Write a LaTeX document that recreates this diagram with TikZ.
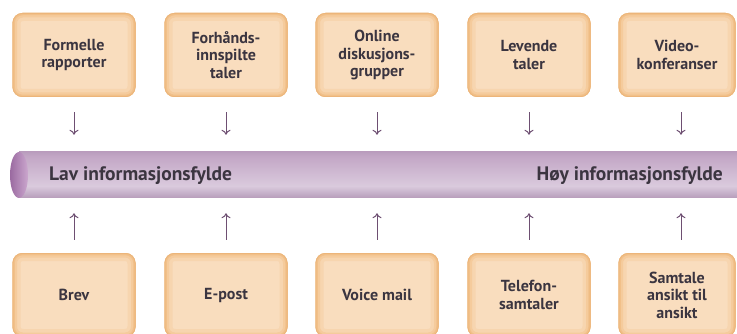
\documentclass[tikz,border=0pt]{standalone}
\usepackage{fontspec}
\setmainfont{PT Sans}
\usetikzlibrary{arrows.meta}
\definecolor{boxin}{HTML}{F9DDBE}
\definecolor{boxa}{HTML}{F7D5AF}
\definecolor{boxb}{HTML}{F5CB9C}
\definecolor{boxc}{HTML}{F1C089}
\definecolor{boxd}{HTML}{ECB57A}
\definecolor{txt}{HTML}{3B3540}
\definecolor{arrc}{HTML}{6E4F72}
\definecolor{tA}{HTML}{D6C3D8}
\definecolor{tB}{HTML}{8D6A92}
\definecolor{tC}{HTML}{A98BAD}
\definecolor{tD}{HTML}{DACADD}
\definecolor{tE}{HTML}{C3A7C6}
\definecolor{tF}{HTML}{9F7FA4}
\definecolor{tG}{HTML}{B89BBB}
\definecolor{tH}{HTML}{EADFEB}
\definecolor{endL}{HTML}{9A6AA0}
\definecolor{endR}{HTML}{CBA7CE}
\pgfdeclareverticalshading{tube}{100bp}{color(0bp)=(tA); color(5bp)=(tB); color(20bp)=(tC); color(38bp)=(tD); color(70bp)=(tE); color(91bp)=(tF); color(96bp)=(tG); color(100bp)=(tH)}
\tikzset{
  infobox/.style={rounded corners=10pt, minimum width=123pt, minimum height=84pt,
    fill=boxin, align=center, text=txt, inner sep=2pt,
    font=\bfseries\fontsize{16}{17.5}\selectfont,
    path picture={
      \draw[boxa, line width=16pt, rounded corners=10pt] (path picture bounding box.south west) rectangle (path picture bounding box.north east);
      \draw[boxb, line width=9pt, rounded corners=10pt] (path picture bounding box.south west) rectangle (path picture bounding box.north east);
      \draw[boxc, line width=4.5pt, rounded corners=10pt] (path picture bounding box.south west) rectangle (path picture bounding box.north east);
      \draw[boxd, line width=1.6pt, rounded corners=10pt] (path picture bounding box.south west) rectangle (path picture bounding box.north east);
    }},
  arr/.style={draw=arrc, line width=1pt, -{To[length=5pt,width=9pt]}},
  downarr/.style={arr, shorten <=15pt, shorten >=17pt},
  uparr/.style={arr, shorten <=13pt, shorten >=15pt},
  tubelabel/.style={font=\bfseries\fontsize{19.5}{21}\selectfont, text=txt, inner sep=0pt}
}
\begin{document}
\begin{tikzpicture}[x=1pt,y=-1pt]
\useasboundingbox (0,0) rectangle (737,334);
\clip (0,0) rectangle (737,334);
\fill[white] (0,0) rectangle (737,334);
% tube
\node[shading=tube, minimum width=726pt, minimum height=46pt, inner sep=0pt, anchor=west] (cyl) at (19,175) {};
\shade[left color=endL, right color=endR] (cyl.west) ellipse [x radius=9pt, y radius=23pt];
\node[tubelabel, anchor=west] (lav) at (49,176) {Lav informasjonsfylde};
\node[tubelabel, anchor=east] (hoy) at (723,176) {Høy informasjonsfylde};
% top boxes
\node[infobox] (t1) at (74,55) {Formelle\\rapporter};
\node[infobox] (t2) at (226,55) {Forhånds-\\innspilte\\taler};
\node[infobox] (t3) at (377,55) {Online\\diskusjons-\\grupper};
\node[infobox] (t4) at (529,55) {Levende\\taler};
\node[infobox, minimum width=117pt] (t5) at (677,55) {Video-\\konferanser};
% bottom boxes
\node[infobox] (b1) at (74,295) {Brev};
\node[infobox] (b2) at (226,295) {E-post};
\node[infobox] (b3) at (377,295) {Voice mail};
\node[infobox] (b4) at (529,295) {Telefon-\\samtaler};
\node[infobox, minimum width=117pt] (b5) at (677,295) {Samtale\\ansikt til\\ansikt};
% arrows
\foreach \n/\dx in {1/0,2/0,3/0,4/0,5/4}{
  \draw[downarr] ([xshift=\dx pt]t\n.south) -- ([xshift=\dx pt]t\n.south |- cyl.north);
  \draw[uparr] ([xshift=\dx pt]b\n.north) -- ([xshift=\dx pt]b\n.north |- cyl.south);
}
\end{tikzpicture}
\end{document}
